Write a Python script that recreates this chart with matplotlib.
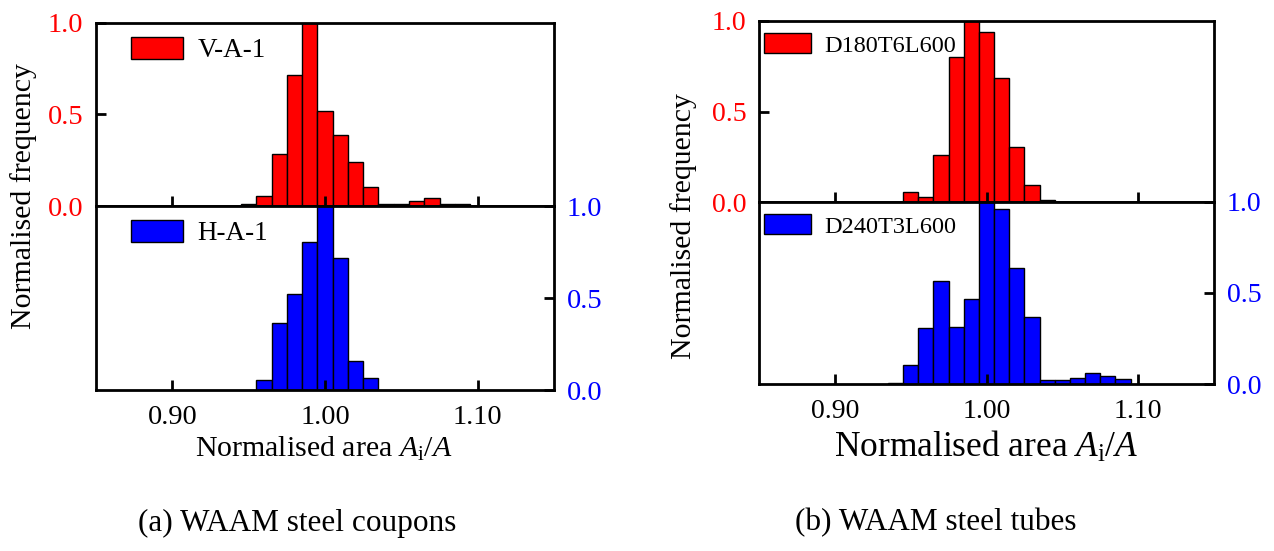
import matplotlib
matplotlib.use("Agg")
import matplotlib.pyplot as plt
from matplotlib.patches import Patch

plt.rcParams["font.family"] = ["Liberation Serif", "DejaVu Serif"]
plt.rcParams["mathtext.fontset"] = "custom"
plt.rcParams["mathtext.rm"] = "Liberation Serif"
plt.rcParams["mathtext.it"] = "Liberation Serif:italic"

# bin centres (width 0.01) and normalised frequencies
coupon_v_x = [0.95, 0.96, 0.97, 0.98, 0.99, 1.00, 1.01, 1.02, 1.03, 1.04, 1.05, 1.06, 1.07, 1.08, 1.09]
coupon_v_y = [0.01, 0.053, 0.285, 0.715, 1.0, 0.519, 0.388, 0.241, 0.103, 0.009, 0.009, 0.027, 0.044, 0.009, 0.009]
coupon_h_x = [0.96, 0.97, 0.98, 0.99, 1.00, 1.01, 1.02, 1.03]
coupon_h_y = [0.054, 0.363, 0.523, 0.802, 1.0, 0.719, 0.158, 0.065]

tube_a_x = [0.95, 0.96, 0.97, 0.98, 0.99, 1.00, 1.01, 1.02, 1.03, 1.04]
tube_a_y = [0.055, 0.028, 0.257, 0.802, 1.0, 0.939, 0.686, 0.305, 0.095, 0.011]
tube_b_x = [0.94, 0.95, 0.96, 0.97, 0.98, 0.99, 1.00, 1.01, 1.02, 1.03, 1.04, 1.05, 1.06, 1.07, 1.08, 1.09]
tube_b_y = [0.007, 0.107, 0.306, 0.565, 0.312, 0.467, 1.0, 0.961, 0.635, 0.367, 0.020, 0.024, 0.031, 0.059, 0.042, 0.028]

xticks = [0.90, 1.00, 1.10]
xticklabels = ["0.90", "1.00", "1.10"]
yticks = [0.0, 0.5, 1.0]
yticklabels = ["0.0", "0.5", "1.0"]

W, H = 1274, 551
fig = plt.figure(figsize=(W / 100, H / 100), dpi=100)


def box(x0, x1, y0, y1):
    return [x0 / W, 1 - y1 / H, (x1 - x0) / W, (y1 - y0) / H]


def style(ax):
    for s in ax.spines.values():
        s.set_linewidth(2.0)
    ax.set_xlim(0.85, 1.15)
    ax.set_ylim(0, 1.0)
    ax.set_xticks(xticks)
    ax.tick_params(direction="in", length=7, width=2, labelsize=20, pad=9)
    ax.tick_params(axis="x", pad=11)


def panel(x0, x1, ytop, ymid, ybot, top, bot, names, legsize, tsize, legx):
    ax1 = fig.add_axes(box(x0, x1, ytop, ymid))
    ax2 = fig.add_axes(box(x0, x1, ymid, ybot))
    for ax in (ax1, ax2):
        style(ax)
    ax1.bar(top[0], top[1], width=0.01, color="#ff0000", edgecolor="black", linewidth=1)
    ax2.bar(bot[0], bot[1], width=0.01, color="#0000ff", edgecolor="black", linewidth=1)

    ax1.set_xticklabels([])
    ax1.set_yticks(yticks)
    ax1.set_yticklabels(yticklabels, color="#ff0000", fontsize=tsize)
    ax1.tick_params(axis="y", left=True, right=False)

    ax2.set_xticklabels(xticklabels, fontsize=tsize)
    ax2.yaxis.tick_right()
    ax2.set_yticks(yticks)
    ax2.set_yticklabels(yticklabels, color="#0000ff", fontsize=tsize)
    ax2.tick_params(axis="y", left=False, right=True, direction="in", length=7, width=2, pad=9)

    for ax, c, n in ((ax1, "#ff0000", names[0]), (ax2, "#0000ff", names[1])):
        h = Patch(facecolor=c, edgecolor="black", linewidth=1)
        ax.legend([h], [n], loc="upper left", bbox_to_anchor=(legx, 1), frameon=False,
                  fontsize=legsize, handlelength=1.9, handleheight=0.9, handletextpad=0.55,
                  borderaxespad=0.3, borderpad=0.2)
    return ax1, ax2


panel(96, 554, 23, 206, 390, (coupon_v_x, coupon_v_y), (coupon_h_x, coupon_h_y),
      ["V-A-1", "H-A-1"], 19.5, 20.5, 0.047)
panel(759, 1214, 21, 202, 384, (tube_a_x, tube_a_y), (tube_b_x, tube_b_y),
      ["D180T6L600", "D240T3L600"], 17.5, 20, -0.015)

fig.text(24 / W, 1 - 196 / H, "Normalised frequency", rotation=90, ha="center", va="center", fontsize=21.5)
fig.text(684 / W, 1 - 226 / H, "Normalised frequency", rotation=90, ha="center", va="center", fontsize=21.5)
fig.text(324 / W, 1 - 449 / H, r"Normalised area $A_{\rm i}/A$", ha="center", va="center", fontsize=21.5)
fig.text(986 / W, 1 - 447 / H, r"Normalised area $A_{\rm i}/A$", ha="center", va="center", fontsize=25.5)
fig.text(297 / W, 1 - 523 / H, "(a) WAAM steel coupons", ha="center", va="center", fontsize=22.5)
fig.text(936 / W, 1 - 523 / H, "(b) WAAM steel tubes", ha="center", va="center", fontsize=22.5)

fig.savefig("out.png", dpi=100)
